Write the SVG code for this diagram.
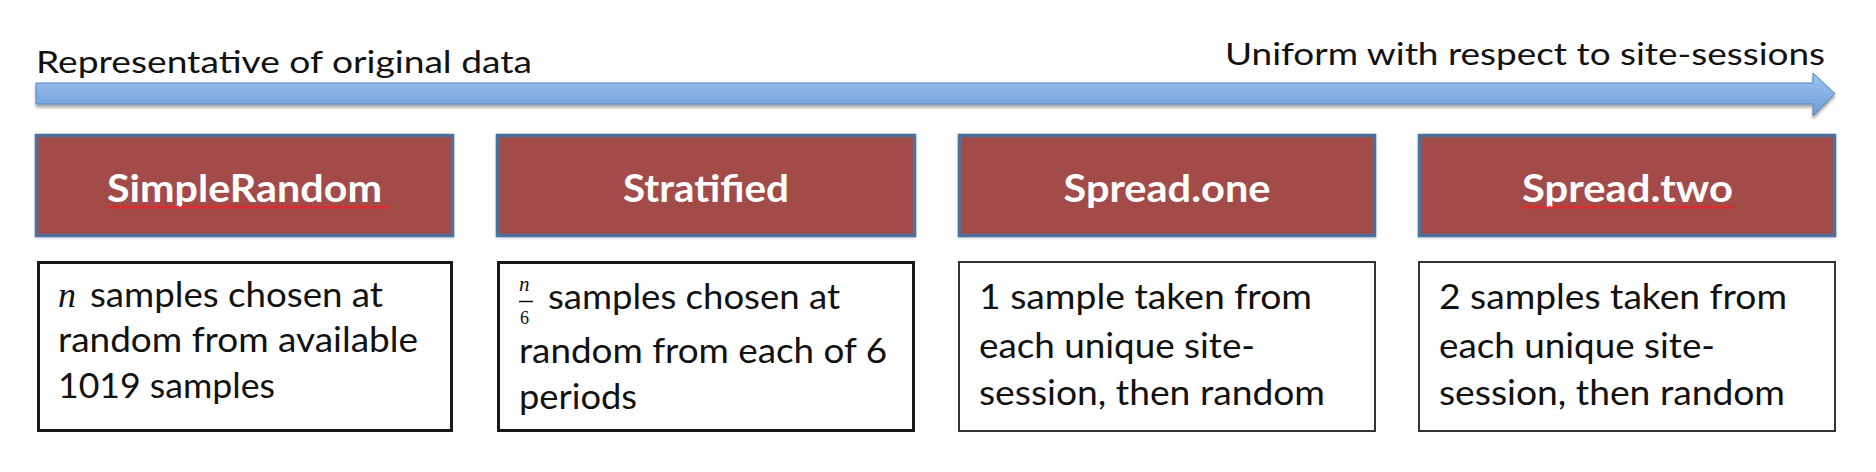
<svg xmlns="http://www.w3.org/2000/svg" width="1876" height="472" viewBox="0 0 1876 472">
<style>
.top{font-family:Lato,"Liberation Sans",sans-serif;font-size:30px;fill:#111}
.title{font-family:Lato,"Liberation Sans",sans-serif;font-size:38px;font-weight:bold;fill:#fff;text-anchor:middle}
.body{font-family:Lato,"Liberation Sans",sans-serif;font-size:35px;fill:#111}
.math{font-family:"Liberation Serif","DejaVu Serif",serif;font-style:italic;fill:#111}
.head{fill:#A34B4A;stroke:#4C7099;stroke-width:3.5}
.desc{fill:#fff;stroke:#1a1a1a;stroke-width:3}
.desc2{fill:#fff;stroke:#333;stroke-width:2}
.squig{fill:url(#wave)}
</style>
<defs>
<linearGradient id="bar" x1="0" y1="0" x2="0" y2="1">
<stop offset="0" stop-color="#9EC4F2"/>
<stop offset="1" stop-color="#6A9BD6"/>
</linearGradient>
<filter id="shadow" x="-5%" y="-30%" width="110%" height="160%">
<feDropShadow dx="0" dy="3" stdDeviation="1.5" flood-color="#000" flood-opacity="0.35"/>
</filter>
<filter id="glow" x="-5%" y="-10%" width="110%" height="120%">
<feDropShadow dx="0" dy="1" stdDeviation="1.5" flood-color="#9fb3c8" flood-opacity="0.6"/>
</filter>
<pattern id="wave" x="0" y="0" width="4" height="5" patternUnits="userSpaceOnUse">
<path d="M0 3.5 L2 1.5 L4 3.5" fill="none" stroke="#E8262A" stroke-width="1.6"/>
</pattern>
</defs>
<rect width="1876" height="472" fill="#fff"/>

<g id="axis">
<text class="top" x="36" y="73" textLength="496" lengthAdjust="spacingAndGlyphs">Representative of original data</text>
<text class="top" x="1225" y="65" textLength="600" lengthAdjust="spacingAndGlyphs">Uniform with respect to site-sessions</text>
</g>

<g id="connectors">
<polygon points="36,83 1813,83 1813,73 1835,93.5 1813,116 1813,104 36,104" fill="url(#bar)" stroke="#5282BC" stroke-width="1" filter="url(#shadow)"/>
</g>

<g id="node-simplerandom">
<rect class="head" x="36.5" y="135.5" width="416" height="100" filter="url(#glow)"/>
<text class="title" x="244.5" y="202" textLength="275" lengthAdjust="spacingAndGlyphs">SimpleRandom</text>
<rect class="squig" x="107" y="205" width="282" height="5"/>
<rect class="desc" x="38.5" y="262.5" width="413" height="168"/>
<text class="math" x="58" y="307" font-size="36">n</text>
<text class="body" x="90" y="307" textLength="293" lengthAdjust="spacingAndGlyphs">samples chosen at</text>
<text class="body" x="58" y="352" textLength="360" lengthAdjust="spacingAndGlyphs">random from available</text>
<text class="body" x="58" y="398" textLength="217" lengthAdjust="spacingAndGlyphs">1019 samples</text>
</g>

<g id="node-stratified">
<rect class="head" x="497.5" y="135.5" width="417" height="100" filter="url(#glow)"/>
<text class="title" x="706" y="202" textLength="166" lengthAdjust="spacingAndGlyphs">Stratified</text>
<rect class="desc" x="498.5" y="262.5" width="415" height="168"/>
<text class="math" x="519" y="291" font-size="21">n</text>
<line x1="519" y1="301.5" x2="533" y2="301.5" stroke="#111" stroke-width="1.5"/>
<text x="520" y="324" font-family="Liberation Serif,serif" font-size="18" fill="#111">6</text>
<text class="body" x="548" y="309" textLength="292" lengthAdjust="spacingAndGlyphs">samples chosen at</text>
<text class="body" x="519" y="363" textLength="368" lengthAdjust="spacingAndGlyphs">random from each of 6</text>
<text class="body" x="519" y="409" textLength="118" lengthAdjust="spacingAndGlyphs">periods</text>
</g>

<g id="node-spread-one">
<rect class="head" x="959.5" y="135.5" width="415" height="100" filter="url(#glow)"/>
<text class="title" x="1167" y="202" textLength="207" lengthAdjust="spacingAndGlyphs">Spread.one</text>
<rect class="desc2" x="959" y="262" width="416" height="169"/>
<text class="body" x="979" y="309" textLength="333" lengthAdjust="spacingAndGlyphs">1 sample taken from</text>
<text class="body" x="979" y="358" textLength="276" lengthAdjust="spacingAndGlyphs">each unique site-</text>
<text class="body" x="979" y="405" textLength="346" lengthAdjust="spacingAndGlyphs">session, then random</text>
</g>

<g id="node-spread-two">
<rect class="head" x="1419.5" y="135.5" width="415" height="100" filter="url(#glow)"/>
<text class="title" x="1627.5" y="202" textLength="211" lengthAdjust="spacingAndGlyphs">Spread.two</text>
<rect class="squig" x="1522" y="205" width="212" height="5"/>
<rect class="desc2" x="1419" y="262" width="416" height="169"/>
<text class="body" x="1439" y="309" textLength="348" lengthAdjust="spacingAndGlyphs">2 samples taken from</text>
<text class="body" x="1439" y="358" textLength="276" lengthAdjust="spacingAndGlyphs">each unique site-</text>
<text class="body" x="1439" y="405" textLength="346" lengthAdjust="spacingAndGlyphs">session, then random</text>
</g>
</svg>
